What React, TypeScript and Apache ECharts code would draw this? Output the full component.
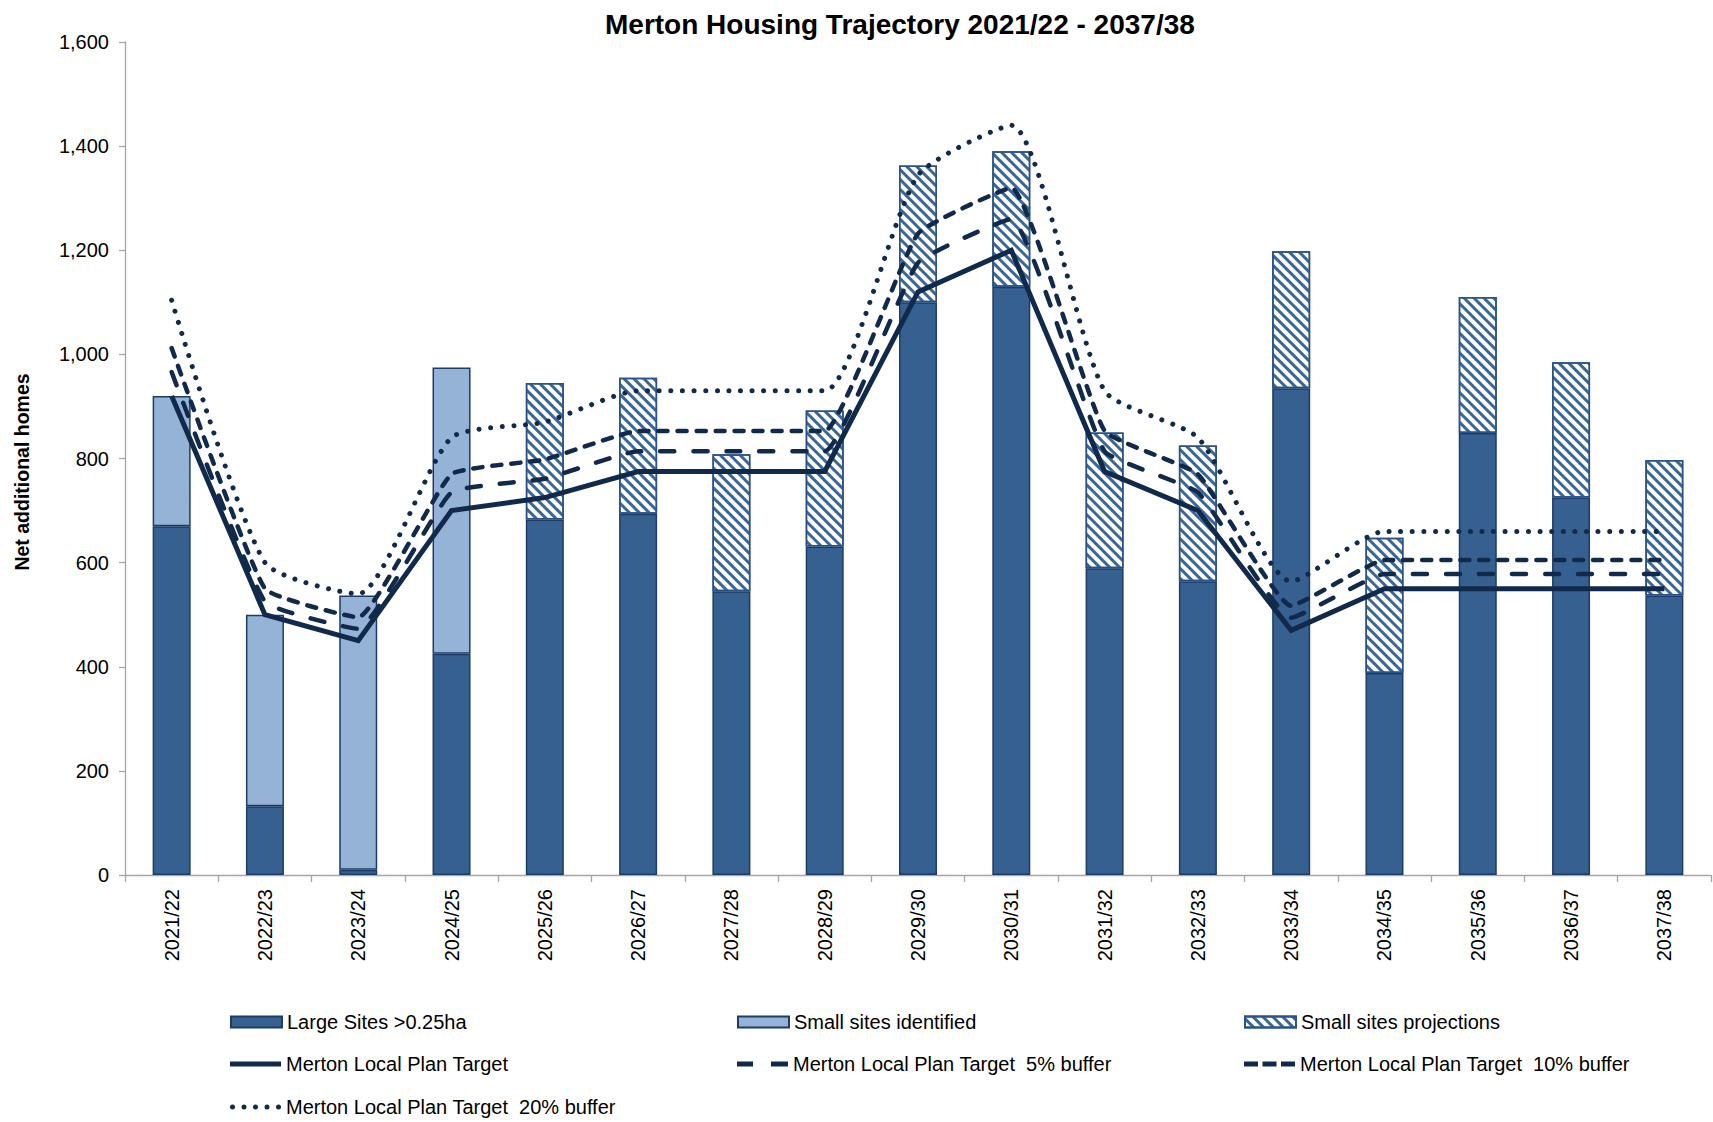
import React, { useEffect, useRef } from 'react';
import * as echarts from 'echarts';

const categories = [
  '2021/22', '2022/23', '2023/24', '2024/25', '2025/26', '2026/27', '2027/28', '2028/29', '2029/30',
  '2030/31', '2031/32', '2032/33', '2033/34', '2034/35', '2035/36', '2036/37', '2037/38',
];

const largeSites = [670, 132, 10, 425, 683, 694, 545, 631, 1100, 1130, 589, 564, 935, 388, 849, 725, 537];
const smallIdentified = [250, 368, 527, 550, null, null, null, null, null, null, null, null, null, null, null, null, null];
const smallProjections = [null, null, null, null, 262, 261, 263, 261, 263, 260, 261, 261, 263, 260, 261, 260, 260];

const target = [920, 500, 450, 700, 725, 775, 775, 775, 1120, 1200, 775, 700, 470, 550, 550, 550, 550];
const buffer5 = [966, 525, 473, 735, 761, 814, 814, 814, 1176, 1260, 814, 735, 494, 578, 578, 578, 578];
const buffer10 = [1012, 550, 495, 770, 798, 853, 853, 853, 1232, 1320, 853, 770, 517, 605, 605, 605, 605];
const buffer20 = [1104, 600, 540, 840, 870, 930, 930, 930, 1344, 1440, 930, 840, 564, 660, 660, 660, 660];

const N_LARGE = 'Large Sites >0.25ha';
const N_SMALL_ID = 'Small sites identified';
const N_SMALL_PROJ = 'Small sites projections';
const N_TARGET = 'Merton Local Plan Target';
const N_B5 = 'Merton Local Plan Target  5% buffer';
const N_B10 = 'Merton Local Plan Target  10% buffer';
const N_B20 = 'Merton Local Plan Target  20% buffer';

const ICON_SOLID = 'path://M0,0 H51 V5 H0 Z';
const ICON_B5 = 'path://M0,0 H16 V5 H0 Z M34,0 H51 V5 H34 Z';
const ICON_B10 = 'path://M0,0 H14 V5 H0 Z M18.5,0 H32.5 V5 H18.5 Z M37,0 H51 V5 H37 Z';
const ICON_B20 =
  'path://M0,2.5 a2.5,2.5 0 1,0 5,0 a2.5,2.5 0 1,0 -5,0 Z' +
  ' M11.5,2.5 a2.5,2.5 0 1,0 5,0 a2.5,2.5 0 1,0 -5,0 Z' +
  ' M23,2.5 a2.5,2.5 0 1,0 5,0 a2.5,2.5 0 1,0 -5,0 Z' +
  ' M34.5,2.5 a2.5,2.5 0 1,0 5,0 a2.5,2.5 0 1,0 -5,0 Z' +
  ' M46,2.5 a2.5,2.5 0 1,0 5,0 a2.5,2.5 0 1,0 -5,0 Z';

export default function App() {
  const ref = useRef<HTMLDivElement>(null);
  useEffect(() => {
    const chart = echarts.init(ref.current!, null, { renderer: 'svg' });
    const font = "'Liberation Sans', Arial, sans-serif";
    const navy = '#112a4b';
    const barBorder = '#1d3c66';
    const axisColor = '#a6a6a6';
    const legendText = { fontSize: 20, color: '#000', fontFamily: font };
    const mkLegend = (left: number, top: number, name: string, icon: string, h: number) => ({
      orient: 'horizontal',
      left,
      top: top - 11,
      itemWidth: 51,
      itemHeight: h,
      padding: 0,
      selectedMode: false,
      textStyle: legendText,
      data: [{ name, icon }],
    });
    const row1 = 1023;
    const row2 = 1065;
    const row3 = 1108;
    const option = {
      animation: false,
      textStyle: { fontFamily: font },
      title: {
        text: 'Merton Housing Trajectory 2021/22 - 2037/38',
        left: 600,
        top: 5,
        textStyle: { fontSize: 28, fontWeight: 'bold', color: '#000', fontFamily: font },
      },
      graphic: [
        {
          type: 'text',
          x: 22,
          y: 472,
          rotation: Math.PI / 2,
          style: {
            text: 'Net additional homes',
            font: `bold 19.5px ${font}`,
            fill: '#000',
            textAlign: 'center',
            textVerticalAlign: 'middle',
          },
        },
      ],
      legend: [
        mkLegend(230, row1, N_LARGE, 'rect', 11),
        mkLegend(737, row1, N_SMALL_ID, 'rect', 11),
        mkLegend(1244, row1, N_SMALL_PROJ, 'rect', 11),
        mkLegend(230, row2, N_TARGET, ICON_SOLID, 5),
        mkLegend(737, row2, N_B5, ICON_B5, 5),
        mkLegend(1244, row2, N_B10, ICON_B10, 5),
        mkLegend(230, row3, N_B20, ICON_B20, 5),
      ],
      grid: { left: 125, right: 2, top: 42, bottom: 247 },
      xAxis: {
        type: 'category',
        data: categories,
        axisLine: { lineStyle: { color: axisColor, width: 1.3 } },
        axisTick: { show: true, length: 7, lineStyle: { color: axisColor, width: 1.3 } },
        axisLabel: { rotate: 90, fontSize: 20, color: '#000', margin: 14, interval: 0, fontFamily: font },
      },
      yAxis: {
        type: 'value',
        min: 0,
        max: 1600,
        interval: 200,
        axisLine: { show: true, lineStyle: { color: axisColor, width: 1.3 } },
        axisTick: { show: true, length: 6, lineStyle: { color: axisColor, width: 1.3 } },
        splitLine: { show: false },
        axisLabel: {
          fontSize: 20,
          color: '#000',
          margin: 16,
          fontFamily: font,
          formatter: (v: number) => v.toLocaleString('en-US'),
        },
      },
      series: [
        {
          name: N_LARGE, type: 'bar', stack: 's', barWidth: 38, data: largeSites,
          itemStyle: { color: '#36608f', borderColor: barBorder, borderWidth: 1.5 },
        },
        {
          name: N_SMALL_ID, type: 'bar', stack: 's', barWidth: 38, data: smallIdentified,
          itemStyle: { color: '#95b3d7', borderColor: barBorder, borderWidth: 1.5 },
        },
        {
          name: N_SMALL_PROJ, type: 'bar', stack: 's', barWidth: 38, data: smallProjections,
          itemStyle: {
            color: '#ffffff', borderColor: '#2a5286', borderWidth: 1.5,
            decal: {
              symbol: 'rect', symbolSize: 1, dashArrayX: [1, 0], dashArrayY: [2.8, 3.4],
              rotation: Math.PI / 4, color: '#3b6797',
            },
          },
        },
        {
          name: N_TARGET, type: 'line', data: target, symbol: 'none', z: 5,
          lineStyle: { color: navy, width: 5, join: 'miter' },
          itemStyle: { color: navy },
        },
        {
          name: N_B5, type: 'line', data: buffer5, symbol: 'none', smooth: 0.12, z: 5,
          lineStyle: { color: navy, width: 4.5, type: [14, 19], cap: 'round' },
          itemStyle: { color: navy },
        },
        {
          name: N_B10, type: 'line', data: buffer10, symbol: 'none', smooth: 0.12, z: 5,
          lineStyle: { color: navy, width: 4.5, type: [9, 10], cap: 'round' },
          itemStyle: { color: navy },
        },
        {
          name: N_B20, type: 'line', data: buffer20, symbol: 'none', smooth: 0.2, z: 5,
          lineStyle: { color: navy, width: 5, type: [0.01, 11.6], cap: 'round' },
          itemStyle: { color: navy },
        },
      ],
    };
    chart.setOption(option as any);
    return () => chart.dispose();
  }, []);
  return (
    <div
      ref={ref}
      style={{ position: 'absolute', left: 0, top: 0, width: 1713, height: 1122, background: '#fff' }}
    />
  );
}
